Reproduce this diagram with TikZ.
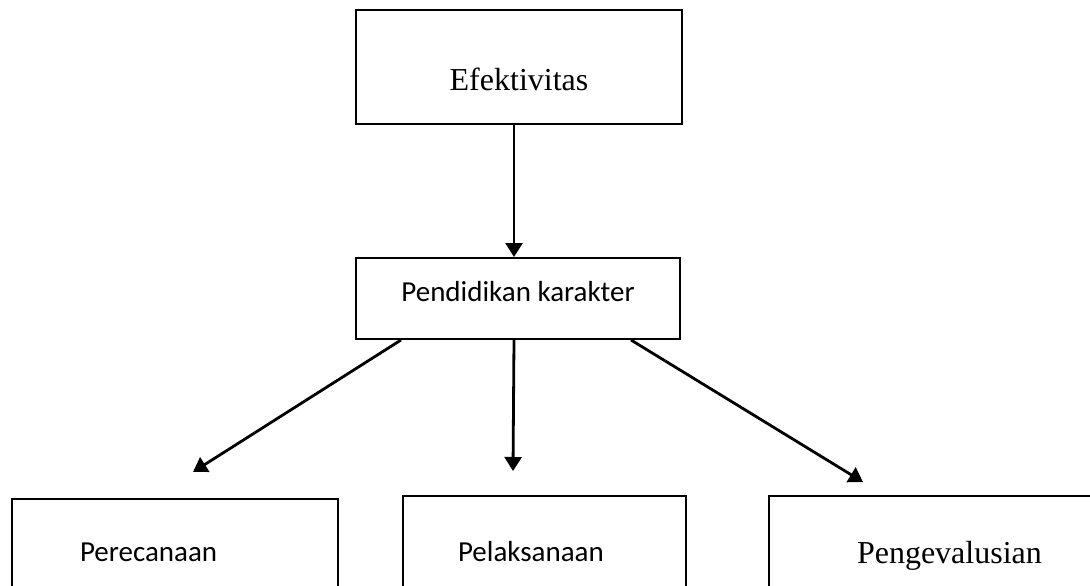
\documentclass[tikz,border=0pt]{standalone}
\usepackage{fontspec}
\setmainfont{Liberation Serif}
\newfontfamily\calibri{Carlito}
\usetikzlibrary{arrows.meta}

\begin{document}
\begin{tikzpicture}[x=1pt, y=-1pt,
    box/.style={rectangle, draw, line width=2pt, anchor=north west},
    serifbox/.style={box, font=\fontsize{32}{38}\selectfont},
    sansbox/.style={box, font=\calibri\fontsize{29}{35}\selectfont},
    arrow/.style={-{Triangle[length=14pt, width=17pt]}, line width=2.8pt}
]
    \useasboundingbox (0,0) rectangle (1090,586);

    % kotak atas
    \node[serifbox, minimum width=326pt, minimum height=114pt, text height=46pt, text depth=0pt] (efek) at (355,9) {Efektivitas};
    \node[sansbox, minimum width=324pt, minimum height=81pt, text height=20pt, text depth=15pt] (didik) at (355,257) {Pendidikan karakter};

    % kotak bawah
    \node[sansbox, text width=190pt, inner xsep=68pt, minimum height=130pt, text height=20pt, text depth=26pt, align=left] (rencana) at (11,498) {Perecanaan};
    \node[sansbox, text width=173pt, inner xsep=55pt, minimum height=130pt, text height=20pt, text depth=20pt, align=left] (laksana) at (402,495) {Pelaksanaan};
    \node[serifbox, text width=216pt, inner xsep=88pt, minimum height=130pt, text height=22pt, text depth=18pt, align=left] (evaluasi) at (768,495) {Pengevalusian};

    % ujung panah
    \coordinate (rencanaTip) at (193,472);
    \coordinate (laksanaTip) at (513,471);
    \coordinate (evaluasiTip) at (863,482);

    % panah
    \draw[arrow] ([xshift=-5pt]efek.south) -- ([xshift=-4pt]didik.north);
    \draw[arrow] ([xshift=-117pt]didik.south) -- (rencanaTip);
    \draw[arrow] ([xshift=-4pt]didik.south) -- (laksanaTip);
    \draw[arrow] ([xshift=113pt]didik.south) -- (evaluasiTip);
\end{tikzpicture}
\end{document}
